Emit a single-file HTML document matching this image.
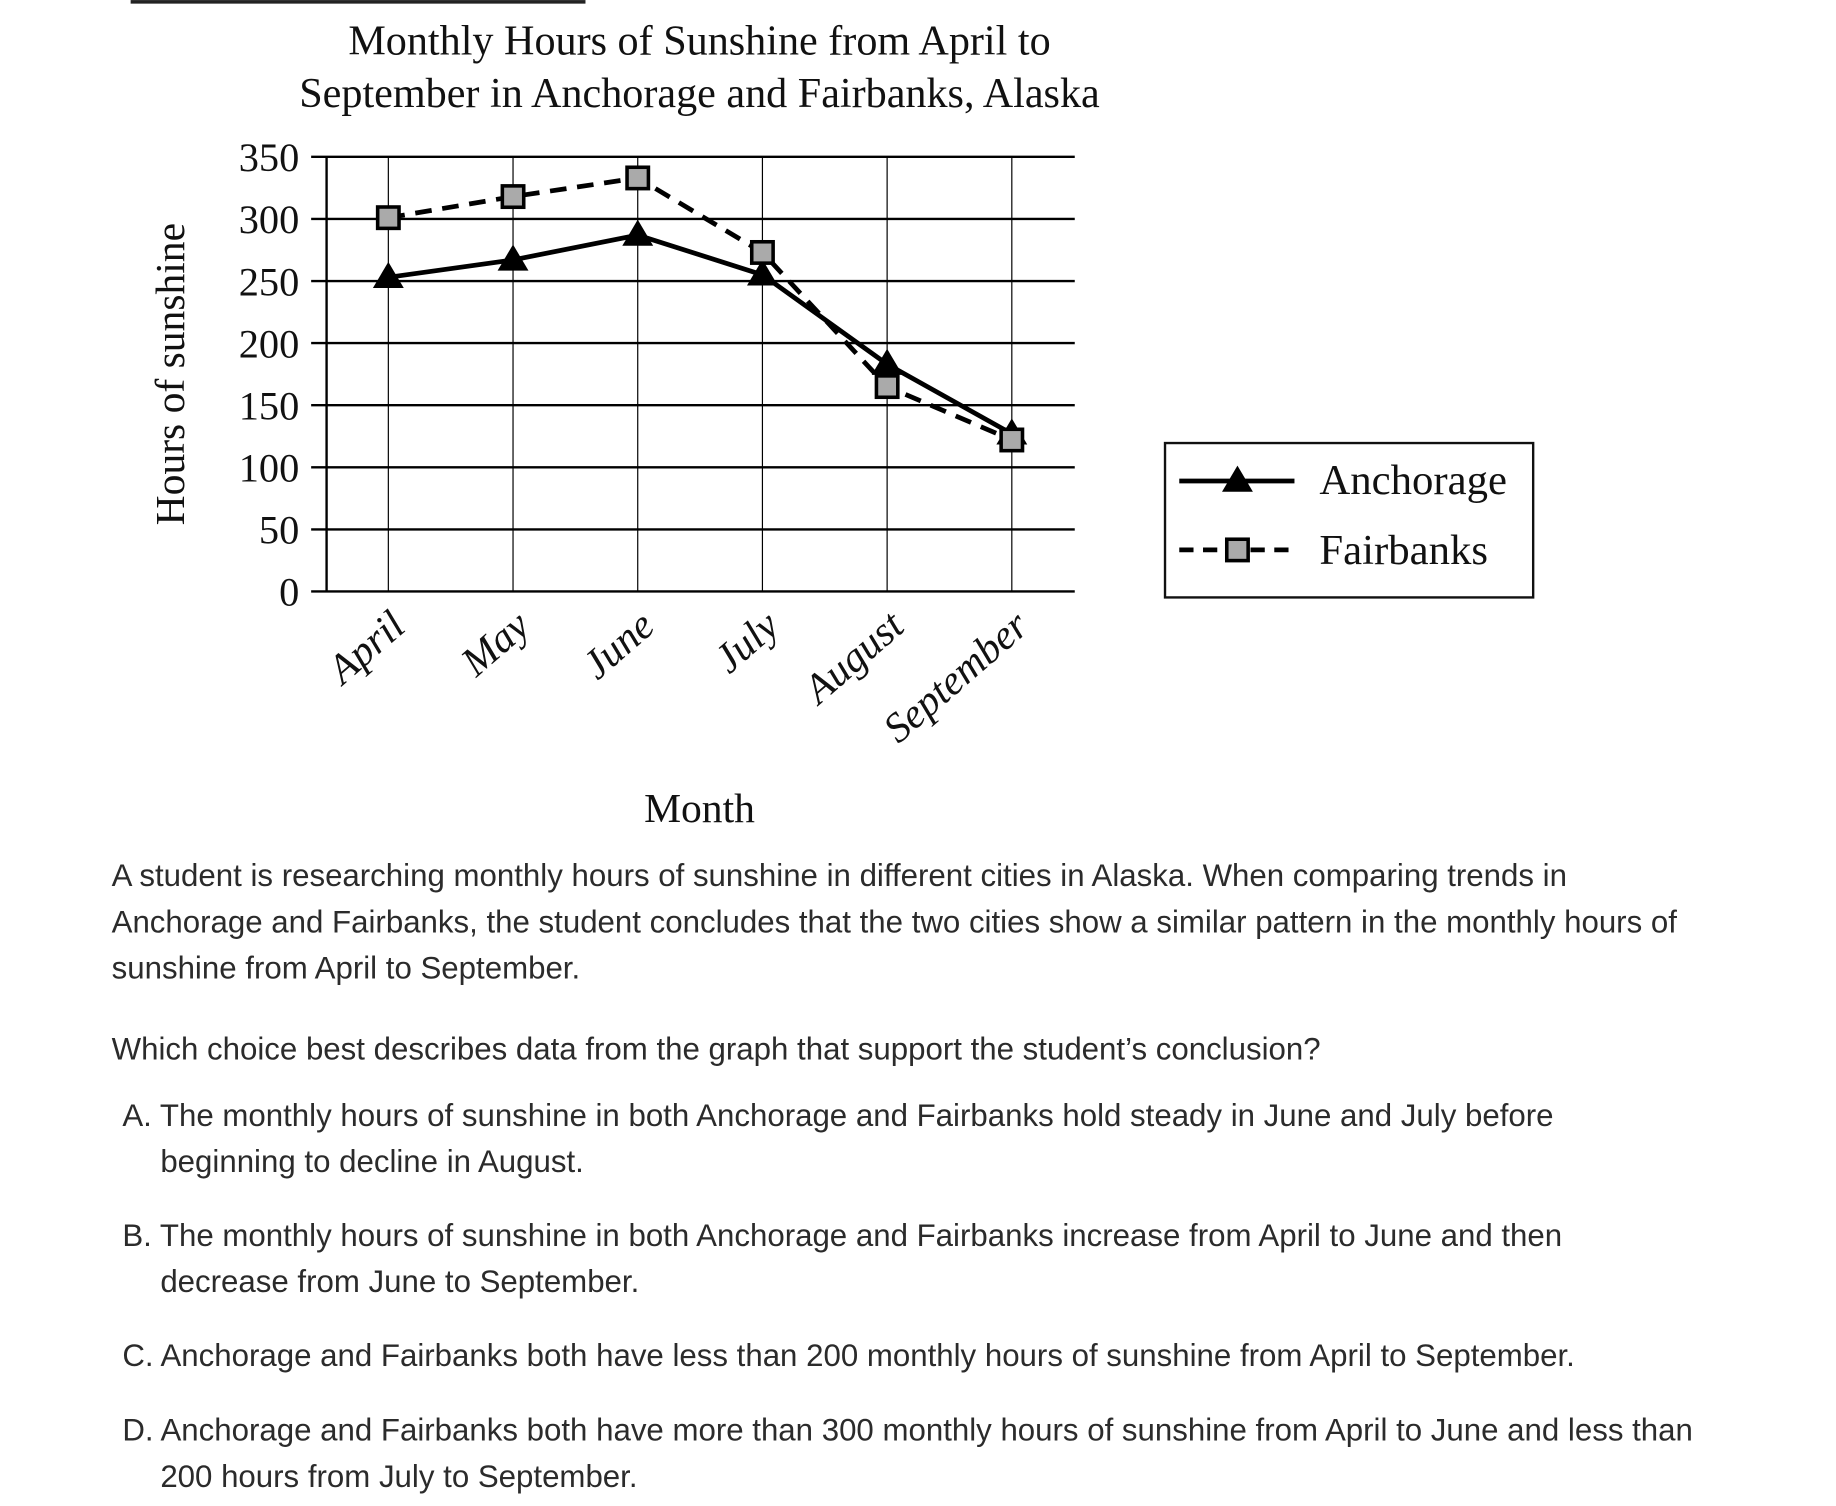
<!DOCTYPE html>
<html><head><meta charset="utf-8"><style>
html,body{margin:0;padding:0;background:#fff;}
svg{display:block;}
.serif{font-family:"Liberation Serif",serif;fill:#111;}
.sans{font-family:"Liberation Sans",sans-serif;fill:#2b2b2b;font-size:26.3px;}
</style></head><body>
<svg id="chart" width="1836" height="1506" viewBox="0 0 1546 1268" xmlns="http://www.w3.org/2000/svg">
<rect x="110" y="0" width="383" height="3" fill="#222"/>
<text class="serif" x="589" y="46" font-size="35.5" text-anchor="middle">Monthly Hours of Sunshine from April to</text>
<text class="serif" x="589" y="90" font-size="35.5" text-anchor="middle">September in Anchorage and Fairbanks, Alaska</text>
<g id="grid"></g>
<g id="series"></g>
<text class="serif" transform="translate(155,315) rotate(-90)" font-size="35" text-anchor="middle">Hours of sunshine</text>
<text class="serif" x="589" y="692" font-size="35" text-anchor="middle">Month</text>
<g>
<rect x="981" y="373" width="310" height="130" fill="#fff" stroke="#111" stroke-width="2"/>
<line x1="993" y1="405" x2="1090" y2="405" stroke="#000" stroke-width="4"/>
<polygon points="1042,392 1055,414 1029,414" fill="#000"/>
<text class="serif" x="1111" y="416" font-size="36">Anchorage</text>
<line x1="993" y1="463" x2="1090" y2="463" stroke="#000" stroke-width="4" stroke-dasharray="12,8"/>
<rect x="1033" y="454" width="18" height="18" fill="#aaa" stroke="#000" stroke-width="3"/>
<text class="serif" x="1111" y="475" font-size="36">Fairbanks</text>
</g>
<g>
<text class="sans" x="94" y="746">A student is researching monthly hours of sunshine in different cities in Alaska. When comparing trends in</text>
<text class="sans" x="94" y="785">Anchorage and Fairbanks, the student concludes that the two cities show a similar pattern in the monthly hours of</text>
<text class="sans" x="94" y="824">sunshine from April to September.</text>
<text class="sans" x="94" y="892">Which choice best describes data from the graph that support the student’s conclusion?</text>
</g>
<g>
<text class="sans" x="103" y="948">A. The monthly hours of sunshine in both Anchorage and Fairbanks hold steady in June and July before</text>
<text class="sans" x="135" y="987">beginning to decline in August.</text></g>
<g>
<text class="sans" x="103" y="1049">B. The monthly hours of sunshine in both Anchorage and Fairbanks increase from April to June and then</text>
<text class="sans" x="135" y="1088">decrease from June to September.</text></g>
<g>
<text class="sans" x="103" y="1150">C. Anchorage and Fairbanks both have less than 200 monthly hours of sunshine from April to September.</text></g>
<g>
<text class="sans" x="103" y="1213">D. Anchorage and Fairbanks both have more than 300 monthly hours of sunshine from April to June and less than</text>
<text class="sans" x="135" y="1252">200 hours from July to September.</text></g>
</svg>
<script>
const months = ["April","May","June","July","August","September"];
const anchorage = [253, 267, 287, 255, 183, 127];
const fairbanks = [301, 318, 333, 273, 165, 122];
const yTicks = [0, 50, 100, 150, 200, 250, 300, 350];

const NS = "http://www.w3.org/2000/svg";
const X0 = 275, X1 = 905, Y0 = 498, Y1 = 132, YMAX = 350;
function xPos(i){ return 327 + i * 105; }
function yPos(v){ return Y0 - (v / YMAX) * (Y0 - Y1); }
function mk(tag, attrs, parent){ const e = document.createElementNS(NS, tag); for (const k in attrs) e.setAttribute(k, attrs[k]); parent.appendChild(e); return e; }

const grid = document.getElementById('grid');
months.forEach((m, i) => {
  const l = mk('line', {x1: xPos(i), x2: xPos(i), y1: Y1, y2: Y0, stroke: '#000', 'stroke-width': 1}, grid);
  
  
  const x = xPos(i) + 16, y = 530;
  const t = mk('text', {x: x, y: y, 'text-anchor': 'end', 'font-size': 35, 'font-style': 'italic', class: 'serif', transform: 'rotate(-41 ' + x + ' ' + y + ')'}, grid);
  t.textContent = m;
  
  
});
yTicks.forEach(v => {
  const l = mk('line', {x1: 262, x2: X1, y1: yPos(v), y2: yPos(v), stroke: '#000', 'stroke-width': 2}, grid);
  
  
  const t = mk('text', {x: 252, y: yPos(v) + 12, 'text-anchor': 'end', 'font-size': 34, class: 'serif'}, grid);
  t.textContent = v;
  
  
});
const ax = mk('line', {x1: X0, x2: X0, y1: Y1, y2: Y0, stroke: '#000', 'stroke-width': 2}, grid);



const sg = document.getElementById('series');
const fLine = mk('polyline', {points: fairbanks.map((v, i) => xPos(i) + ',' + yPos(v)).join(' '), fill: 'none', stroke: '#000', 'stroke-width': 4, 'stroke-dasharray': '14,9'}, sg);


const aLine = mk('polyline', {points: anchorage.map((v, i) => xPos(i) + ',' + yPos(v)).join(' '), fill: 'none', stroke: '#000', 'stroke-width': 4}, sg);


anchorage.forEach((v, i) => {
  const x = xPos(i), y = yPos(v);
  const p = mk('polygon', {points: x + ',' + (y - 13) + ' ' + (x + 13) + ',' + (y + 9) + ' ' + (x - 13) + ',' + (y + 9), fill: '#000'}, sg);
  
  
});
fairbanks.forEach((v, i) => {
  const x = xPos(i), y = yPos(v);
  const r = mk('rect', {x: x - 9, y: y - 9, width: 18, height: 18, fill: '#aaa', stroke: '#000', 'stroke-width': 3}, sg);
  
  
});
</script>
</body></html>
